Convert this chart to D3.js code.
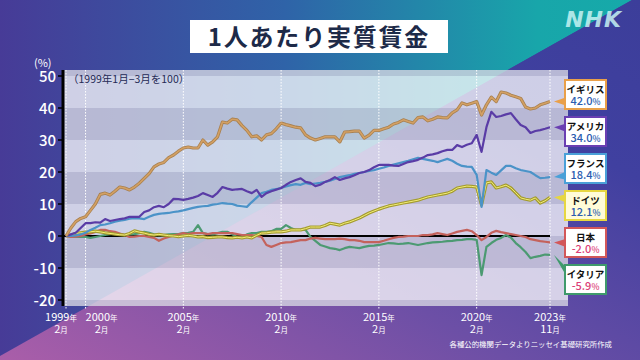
<!DOCTYPE html>
<html>
<head>
<meta charset="utf-8">
<script src="https://cdn.jsdelivr.net/npm/d3@7"></script>
<style>
html, body { margin: 0; padding: 0; background: #3f3f9c; }
svg { display: block; font-family: "Noto Sans CJK JP", "Noto Sans", sans-serif; }
</style>
</head>
<body>
<svg id="chart" width="640" height="360"></svg>
<script>
// quarterly values (Feb, May, Aug, Nov) from 1999 Feb to 2023 Nov, 1999 Q1 = 100 -> shown as % change
var uk = [
  0, 2.5, 4.5, 5.5,   6, 8, 10, 13,   13.4, 12.8, 14, 15.3,   15, 14.4, 15.3, 16.5,
  18, 19.5, 21.6, 22.5,   23, 24.5, 25.3, 26.5,   27.5, 27.8, 27.5, 27.5,   30, 28.4, 29.4, 31,
  35.6, 35.3, 36.5, 36.3,   34.5, 33, 31, 31.3,   30, 31.6, 32, 33.5,   35.3, 34.8, 34.4, 34,
  33.8, 31.6, 30.6, 30,   30.5, 31, 31, 31,   29.4, 32.5, 32.6, 32.8,   32.8, 30.6, 31.5, 33,
  33, 33.5, 34, 35,   35.5, 36.3, 35.8, 35.3,   37, 37.2, 36, 36.5,   37.2, 37, 36.9, 38.5,
  39.4, 41.6, 41, 41.5,   42, 37.8, 41, 43.4,   42, 45, 44.7, 44,   43.5, 43, 40.3, 39.7,
  40, 41, 41.5, 42
];
var us = [
  0, 0.5, 1, 2.5,   4, 4, 4.3, 4.2,   5.3, 4.7, 5, 5.3,   5.5, 6, 6, 6,
  7.5, 8, 9, 9.4,   9, 10, 11.6, 11.5,   11.3, 11.6, 12, 12.5,   13.4, 12.8, 12.2, 13.5,
  15.3, 14.8, 14.4, 14.6,   14.7, 14, 13.4, 14.4,   12.2, 13.4, 14, 14.5,   15, 16, 16.9, 17.5,
  18, 16.9, 16.6, 15.6,   16, 16.9, 17.5, 18.4,   17.5, 18, 18.4, 19,   19.7, 20, 20.6, 21.5,
  22.2, 22.2, 22.2, 22,   21.9, 22.5, 23.1, 23.4,   23.8, 24.5, 25.3, 25.5,   25.9, 26.5, 26.9, 26.9,
  28.4, 27.8, 28.5, 29,   31.6, 26.3, 34, 38.8,   37.2, 37.5, 38, 38.4,   36.5, 34.7, 34, 32.2,
  32.8, 33.1, 33.5, 34
];
var france = [
  0, 0, 0.2, 0.5,   1, 1.9, 2.6, 3.4,   3.6, 4, 4.5, 4.8,   5, 5.4, 5.6, 5.5,
  5.3, 6, 6.6, 6.9,   7.1, 7.2, 7.5, 7.7,   8, 8.4, 8.8, 9.1,   9.3, 9.4, 9.8, 10,
  10.3, 10.1, 10, 9.5,   9.3, 9.1, 10.6, 12,   13.4, 13.8, 14.4, 14.7,   15, 15.5, 15.9, 16.2,
  16, 16.6, 16.2, 16.4,   16.6, 16.9, 17.3, 17.8,   18.4, 18.7, 19, 19.4,   19.7, 20, 20.3, 20.6,
  21, 21.4, 21.9, 22.3,   22.7, 23.1, 23.5, 24,   24.4, 24.1, 23.8, 23.5,   23.1, 23.6, 24.1, 23.5,
  22.6, 21.9, 21.7, 21.6,   19.1, 9.1, 20.6, 19.8,   19.1, 20.5, 21.9, 21.9,   21.2, 20.6, 20.3, 20,
  19, 18.1, 18.2, 18.4
];
var germany = [
  0, 0.3, 0.8, 1,   1.2, 1.3, 1.5, 1.3,   1, 0.8, 0.6, 0.4,   0.3, 0.8, 1.6, 1.2,
  0.9, 0.5, 0.3, 0.5,   0.3, 0.1, 0, -0.2,   0, 0.2, 0, -0.3,   -0.2, -0.5, -0.4, -0.3,
  -0.3, -0.5, -0.6, -0.4,   -0.6, -0.3, -0.6, 0.2,   0.9, 1, 1.2, 1.3,   1.3, 1.5, 1.9, 1.9,
  1.9, 2.3, 2.8, 2.8,   2.8, 3.3, 4, 3.7,   3.4, 4, 4.4, 5,   5.6, 6.4, 7.2, 7.8,
  8.4, 8.9, 9.4, 9.7,   10, 10.3, 10.6, 10.9,   11.2, 11.7, 12.2, 12.5,   12.8, 13.1, 13.4, 14,
  15, 15.3, 15.6, 15.5,   15.3, 9.7, 16.6, 16.9,   15, 15.4, 15.9, 15,   13.5, 11.9, 11.5, 11.2,
  11.9, 10.3, 11, 12.1
];
var japan = [
  0, -0.3, -0.2, 0,   0.5, 0.8, 1.3, 1.9,   1.9, 1.5, 1.3, 0.8,   0.3, -0.3, -0.2, 0,
  0, -0.3, -0.6, -1.5,   -0.8, -0.3, 0.2, 0.5,   0.9, 0.6, 0.9, 0.9,   0.9, 0.6, 0.9, 0.9,
  0.9, 0.9, 0.9, 0.6,   0.3, 0.3, 0.3, 0,   -0.3, -2.8, -3.4, -2.8,   -2.2, -2, -1.9, -1.6,
  -1.3, -1.3, -0.8, -0.6,   -0.8, -1, -1, -1,   -0.8, -1, -1.3, -1.3,   -1.5, -1.9, -1.9, -1.9,
  -1.9, -1.5, -1, -0.6,   -0.3, -0.2, 0, 0,   0, 0.3, 0.3, 0.5,   0.9, 0.6, 0.3, 0.8,
  1.3, 1.6, 1.9, 1.5,   0.3, -1.3, -0.3, 1,   1.6, 1.2, 0.9, 0.6,   0.3, 0, -0.3, -1,
  -1.3, -1.6, -1.8, -2
];
var italy = [
  0, -0.2, -0.3, -0.3,   -0.3, -0.6, -0.3, 0,   0.3, 0.6, 0.9, 0.6,   0.3, 0.5, 0.6, 0.9,
  1.3, 1, 0.5, 0.3,   0.3, 0.5, 0.6, 0.6,   0.9, 1, 1.3, 3.4,   0.9, 0.6, 0.5, 0.9,
  1.3, 1.3, 0.5, -0.3,   -0.3, 0.5, 0.9, 0.9,   1.3, 1.3, 1.5, 2.2,   2.2, 3.4, 2.5, 1.9,
  1.9, 1.9, -0.3, -1.5,   -2.8, -3.3, -3.8, -4,   -4.4, -3.8, -3.4, -3.6,   -3.8, -3.4, -3.1, -3,
  -2.8, -2.5, -2.2, -2.3,   -2.5, -2.4, -2.2, -2.5,   -2.8, -2.5, -2.2, -2,   -1.9, -1.8, -1.6, -1.5,
  -1.3, -1.2, -1, -1,   -1.2, -12.2, -3.4, -2.2,   -1.2, -0.6, 0.3, -0.5,   -2.2, -3.5, -5, -6.9,
  -6.5, -6.2, -5.8, -5.9
];

var countryNames = ["イギリス", "アメリカ", "フランス", "ドイツ", "日本", "イタリア"];
var latestValues = ["42.0", "34.0", "18.4", "12.1", "-2.0", "-5.9"];

var xTickYears = [1999, 2000, 2005, 2010, 2015, 2020, 2023];
var xTickMonths = [2, 2, 2, 2, 2, 2, 11];
var yTicks = [50, 40, 30, 20, 10, 0, -10, -20];

/* colours and line styles for each country, same order as countryNames */
var styles = [
  {data: uk,      color: "#e9a04a", line: "#d3a064", edge: "#a88050", w: 2.6},
  {data: us,      color: "#6a3fb2", line: "#5a3ca6", edge: null,      w: 2.2},
  {data: france,  color: "#4aa0d8", line: "#4b93c8", edge: null,      w: 2.2},
  {data: germany, color: "#e6d640", line: "#f4ee78", edge: "#a39b2e", w: 2.6, fill: "#fffbd8"},
  {data: japan,   color: "#d2575a", line: "#c4625c", edge: null,      w: 2.2},
  {data: italy,   color: "#3f9a6c", line: "#4c9a72", edge: null,      w: 2.2}
];

var plot = {left: 63, right: 568, top: 70, bottom: 306};

var svg = d3.select("#chart");
var defs = svg.append("defs");

/* background: two gradient halves split by a diagonal */
var gUp = defs.append("linearGradient").attr("id", "gUp")
  .attr("x1", 0).attr("y1", 0).attr("x2", 1).attr("y2", 0);
gUp.append("stop").attr("offset", 0).attr("stop-color", "#473b97");
gUp.append("stop").attr("offset", 0.45).attr("stop-color", "#2f63a8");
gUp.append("stop").attr("offset", 0.85).attr("stop-color", "#18a6aa");
gUp.append("stop").attr("offset", 1).attr("stop-color", "#16aaa9");

var gLow = defs.append("linearGradient").attr("id", "gLow")
  .attr("x1", 0).attr("y1", 1).attr("x2", 1).attr("y2", 0);
gLow.append("stop").attr("offset", 0).attr("stop-color", "#aa5ea9");
gLow.append("stop").attr("offset", 0.4).attr("stop-color", "#6c4fa6");
gLow.append("stop").attr("offset", 0.75).attr("stop-color", "#4040a0");
gLow.append("stop").attr("offset", 1).attr("stop-color", "#3c3e9a");

svg.append("polygon").attr("points", "0,0 632,0 0,356").attr("fill", "url(#gUp)");
svg.append("polygon").attr("points", "632,0 640,0 640,360 0,360 0,356").attr("fill", "url(#gLow)");

/* NHK logo */
svg.append("text")
  .attr("x", 622).attr("y", 27)
  .attr("text-anchor", "end")
  .attr("font-family", "DejaVu Sans")
  .attr("font-weight", "bold")
  .attr("font-style", "italic")
  .attr("font-size", 22)
  .attr("letter-spacing", 1)
  .attr("fill", "#c6f2f2")
  .attr("opacity", 0.85)
  .text("NHK");

/* title */
svg.append("rect").attr("x", 190).attr("y", 20).attr("width", 258).attr("height", 33).attr("fill", "#ffffff");
svg.append("text")
  .attr("x", 319).attr("y", 45.5)
  .attr("text-anchor", "middle")
  .attr("font-size", 24)
  .attr("font-weight", "bold")
  .attr("letter-spacing", 1.8)
  .attr("fill", "#1d2a48")
  .text("1人あたり実質賃金");

/* scales */
var x = d3.scaleLinear().domain([1999 + 1 / 12, 2023 + 10 / 12]).range([66, 550]);
var y = d3.scaleLinear().domain([-20, 50]).range([300, 76]);

function timeOf(i) { return 1999 + i / 4 + 1 / 12; }

/* plot background and bands */
defs.append("clipPath").attr("id", "plotClip")
  .append("rect")
  .attr("x", plot.left).attr("y", plot.top)
  .attr("width", plot.right - plot.left).attr("height", plot.bottom - plot.top);

var bg = svg.append("g").attr("clip-path", "url(#plotClip)");
bg.append("rect")
  .attr("x", plot.left).attr("y", plot.top)
  .attr("width", plot.right - plot.left).attr("height", plot.bottom - plot.top)
  .attr("fill", "#ffffff").attr("opacity", 0.75);

var bandStarts = d3.range(-30, 60, 10).filter(function(v) { return Math.abs(v / 10) % 2 === 1; });
bg.selectAll(".band")
  .data(bandStarts)
  .enter()
  .append("rect")
  .attr("class", "band")
  .attr("x", plot.left)
  .attr("width", plot.right - plot.left)
  .attr("y", function(d) { return y(d + 10); })
  .attr("height", function(d) { return y(d) - y(d + 10); })
  .attr("fill", "#45457a")
  .attr("opacity", 0.17);

/* vertical dotted guides */
svg.selectAll(".vguide")
  .data(xTickYears)
  .enter()
  .append("line")
  .attr("class", "vguide")
  .attr("x1", function(d, i) { return x(d + (xTickMonths[i] - 1) / 12); })
  .attr("x2", function(d, i) { return x(d + (xTickMonths[i] - 1) / 12); })
  .attr("y1", plot.top)
  .attr("y2", 310)
  .attr("stroke", "#ffffff")
  .attr("stroke-width", 1)
  .attr("stroke-dasharray", "1.5,1.5");

/* zero line */
svg.append("line")
  .attr("x1", plot.left).attr("x2", x(2023 + 10 / 12))
  .attr("y1", y(0)).attr("y2", y(0))
  .attr("stroke", "#000000").attr("stroke-width", 2);

/* note */
svg.append("text")
  .attr("x", 68).attr("y", 83)
  .attr("font-size", 10.5)
  .attr("fill", "#252a55")
  .text("（1999年1月−3月を100）");

/* lines, bottom to top */
var line = d3.line()
  .x(function(d, i) { return x(timeOf(i)); })
  .y(function(d) { return y(d); });

var drawOrder = [5, 4, 3, 2, 1, 0];
drawOrder.forEach(function(k) {
  var s = styles[k];
  if (s.edge) {
    svg.append("path").datum(s.data)
      .attr("d", line).attr("fill", "none")
      .attr("stroke", s.edge).attr("stroke-width", s.w + 0.6)
      .attr("stroke-linejoin", "round");
    svg.append("path").datum(s.data)
      .attr("d", line).attr("fill", "none")
      .attr("stroke", s.line).attr("stroke-width", k === 3 ? 1 : 1.6)
      .attr("stroke-linejoin", "round");
  } else {
    svg.append("path").datum(s.data)
      .attr("d", line).attr("fill", "none")
      .attr("stroke", s.line).attr("stroke-width", s.w)
      .attr("stroke-linejoin", "round");
  }
});

/* y axis */
svg.append("line")
  .attr("x1", plot.left).attr("x2", plot.left)
  .attr("y1", plot.top).attr("y2", plot.bottom)
  .attr("stroke", "#000000").attr("stroke-width", 3);

var yAxis = svg.append("g");
yAxis.selectAll(".ytick")
  .data(yTicks)
  .enter()
  .append("line")
  .attr("x1", 58).attr("x2", plot.left)
  .attr("y1", function(d) { return y(d); })
  .attr("y2", function(d) { return y(d); })
  .attr("stroke", "#000000").attr("stroke-width", 1.5);
yAxis.selectAll(".ylab")
  .data(yTicks)
  .enter()
  .append("text")
  .attr("x", 56)
  .attr("y", function(d) { return y(d) + 5.5; })
  .attr("text-anchor", "end")
  .attr("font-size", 15)
  .attr("font-weight", 500)
  .attr("fill", "#ffffff")
  .text(function(d) { return d; });

svg.append("text")
  .attr("x", 34).attr("y", 67)
  .attr("font-size", 11)
  .attr("fill", "#ffffff")
  .text("(%)");

/* x tick labels (first two nudged apart as in the original) */
var labelShift = [-5, 16, 0, 0, 0, 0, 0];
var xLab = svg.selectAll(".xlab")
  .data(xTickYears)
  .enter()
  .append("g")
  .attr("transform", function(d, i) {
    return "translate(" + (x(d + (xTickMonths[i] - 1) / 12) + labelShift[i]) + ",0)";
  });
var t1 = xLab.append("text").attr("y", 321).attr("text-anchor", "middle").attr("fill", "#ffffff");
t1.append("tspan").attr("font-size", 11).text(function(d) { return d; });
t1.append("tspan").attr("font-size", 7.5).text("年");
var t2 = xLab.append("text").attr("y", 333).attr("text-anchor", "middle").attr("fill", "#ffffff");
t2.append("tspan").attr("font-size", 11).text(function(d, i) { return xTickMonths[i]; });
t2.append("tspan").attr("font-size", 7.5).text("月");

/* source */
svg.append("text")
  .attr("x", 612).attr("y", 347)
  .attr("text-anchor", "end")
  .attr("font-size", 7.4)
  .attr("fill", "#ffffff")
  .text("各種公的機関データよりニッセイ基礎研究所作成");

/* end labels with pointers */
var boxLeft = 565, boxW = 41, boxH = 29;
styles.forEach(function(s, k) {
  var top = 80 + k * 37;
  var last = s.data[s.data.length - 1];
  var tipX = x(timeOf(s.data.length - 1)) + 4;
  var tipY = y(last);
  var b0 = Math.max(top + 3, Math.min(top + boxH - 12, tipY - 4));
  svg.append("polygon")
    .attr("points", tipX + "," + tipY + " " + (boxLeft + 2) + "," + b0 + " " + (boxLeft + 2) + "," + (b0 + 9))
    .attr("fill", s.color);
  svg.append("rect")
    .attr("x", boxLeft).attr("y", top)
    .attr("width", boxW).attr("height", boxH)
    .attr("fill", s.fill || "#ffffff")
    .attr("stroke", s.color).attr("stroke-width", 2);
  svg.append("text")
    .attr("x", boxLeft + boxW / 2).attr("y", top + 12.5)
    .attr("text-anchor", "middle")
    .attr("font-size", 9.5).attr("font-weight", "bold")
    .attr("fill", "#111111")
    .text(countryNames[k]);
  var v = svg.append("text")
    .attr("x", boxLeft + boxW / 2).attr("y", top + 25)
    .attr("text-anchor", "middle")
    .attr("font-weight", 500)
    .attr("fill", +latestValues[k] < 0 ? "#dc3f78" : "#2a5cb0");
  v.append("tspan").attr("font-size", 11).text(latestValues[k]);
  v.append("tspan").attr("font-size", 8.5).text("%");
});
</script>
</body>
</html>
